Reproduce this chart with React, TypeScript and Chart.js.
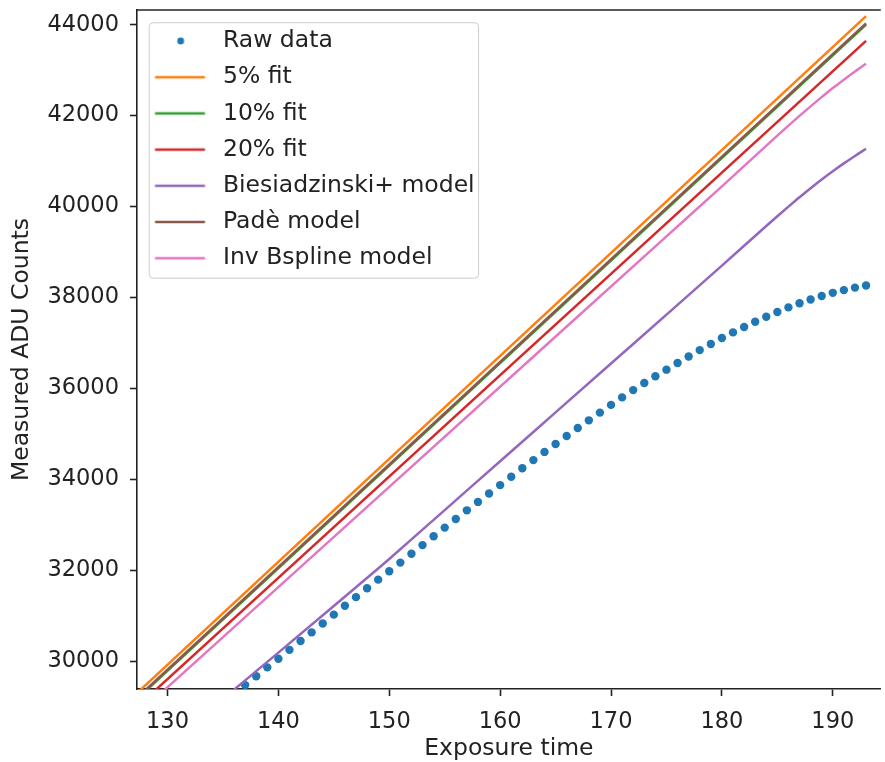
import React, { useEffect, useRef } from "react";
import { Chart, registerables } from "chart.js";

Chart.register(...registerables);

const FONT = "'DejaVu Sans', sans-serif";

const seriesLabels = [
  "Raw data",
  "5% fit",
  "10% fit",
  "20% fit",
  "Biesiadzinski+ model",
  "Padè model",
  "Inv Bspline model",
];
const seriesColors = ["#1f77b4", "#ff7f0e", "#2ca02c", "#d62728", "#9467bd", "#8c564b", "#e377c2"];

const rawTimes = [
  137, 138, 139, 140, 141, 142, 143, 144, 145, 146, 147, 148, 149, 150, 151, 152, 153, 154, 155,
  156, 157, 158, 159, 160, 161, 162, 163, 164, 165, 166, 167, 168, 169, 170, 171, 172, 173, 174,
  175, 176, 177, 178, 179, 180, 181, 182, 183, 184, 185, 186, 187, 188, 189, 190, 191, 192, 193,
];
const rawCounts = [
  29470, 29665, 29860, 30050, 30245, 30440, 30630, 30825, 31020, 31215, 31405, 31600, 31790, 31975,
  32165, 32360, 32550, 32745, 32935, 33125, 33315, 33500, 33685, 33870, 34055, 34240, 34420, 34600,
  34775, 34950, 35125, 35295, 35465, 35635, 35800, 35960, 36115, 36265, 36410, 36555, 36700, 36840,
  36975, 37105, 37230, 37350, 37465, 37575, 37680, 37780, 37870, 37955, 38030, 38100, 38160, 38215,
  38260,
];

const fitTimes = [125, 193];
const fit5Counts = [28785, 44188];
const fit10Counts = [28657, 44004];
const fit20Counts = [28487, 43644];
const padeCounts = [28680, 44030];

const biesTimes = [
  134, 136, 140, 145, 149, 150, 155, 160, 165, 170, 176, 180, 184, 185, 186, 187, 188, 189, 190,
  191, 192, 193,
];
const biesCounts = [
  28960, 29370, 30185, 31210, 32035, 32245, 33320, 34395, 35470, 36545, 37835, 38700, 39570, 39785,
  39996, 40203, 40403, 40595, 40776, 40948, 41112, 41270,
];

const bsplineTimes = [125, 150, 175, 180, 185, 186, 187, 188, 189, 190, 191, 192, 193];
const bsplineCounts = [28321, 33830, 39341, 40443, 41560, 41778, 41993, 42203, 42406, 42605, 42790, 42970, 43140];

const xTickValues = [130, 140, 150, 160, 170, 180, 190];
const yTickValues = [30000, 32000, 34000, 36000, 38000, 40000, 42000, 44000];
const xMin = 127.25;
const xMax = 194.33;
const yMin = 29384;
const yMax = 44323;

const zip = (xs: number[], ys: number[]) => xs.map((x, i) => ({ x, y: ys[i] }));

function makeHandle(color: string, kind: "line" | "dot") {
  const c = document.createElement("canvas");
  c.width = 62;
  c.height = 12;
  const g = c.getContext("2d")!;
  if (kind === "line") {
    g.strokeStyle = color;
    g.lineWidth = 2.5;
    g.beginPath();
    g.moveTo(5.5, 6);
    g.lineTo(55.5, 6);
    g.stroke();
  } else {
    g.fillStyle = color;
    g.beginPath();
    g.arc(31.2, 6, 3.4, 0, Math.PI * 2);
    g.fill();
  }
  return c;
}

const framePlugin = {
  id: "mplFrame",
  beforeDraw(chart: any) {
    const lg = chart.legend;
    const boxes = lg && lg.legendHitBoxes;
    if (!boxes || !boxes.length) return;
    const ctx = chart.ctx;
    const first = boxes[0];
    const last = boxes[boxes.length - 1];
    let maxRight = 0;
    boxes.forEach((b: any) => (maxRight = Math.max(maxRight, b.left + b.width)));
    const left = first.left - 0.5;
    const top = first.top - 6.5;
    const right = maxRight + 4;
    const bottom = last.top + last.height + 8.25;
    ctx.save();
    ctx.beginPath();
    ctx.roundRect(left, top, right - left, bottom - top, 4);
    ctx.fillStyle = "rgba(255,255,255,0.8)";
    ctx.fill();
    ctx.strokeStyle = "#cccccc";
    ctx.lineWidth = 1;
    ctx.stroke();
    ctx.restore();
  },
  afterDraw(chart: any) {
    const { ctx, chartArea } = chart;
    ctx.save();
    ctx.strokeStyle = "#222";
    ctx.lineWidth = 1.6;
    ctx.beginPath();
    ctx.moveTo(chartArea.left - 0.8, chartArea.top);
    ctx.lineTo(chartArea.right, chartArea.top);
    ctx.stroke();
    ctx.restore();
  },
};

export default function App() {
  const ref = useRef<HTMLCanvasElement | null>(null);

  useEffect(() => {
    document.body.style.margin = "0";
    document.body.style.overflow = "hidden";
    const canvas = ref.current!;
    const handles = seriesColors.map((c, i) => makeHandle(c, i === 0 ? "dot" : "line"));

    const lineDs = (i: number, xs: number[], ys: number[], order: number, smooth = false) => ({
      label: seriesLabels[i],
      data: zip(xs, ys),
      showLine: true,
      borderColor: seriesColors[i],
      backgroundColor: seriesColors[i],
      borderWidth: 2.5,
      pointRadius: 0,
      pointHoverRadius: 0,
      fill: false,
      order,
      cubicInterpolationMode: smooth ? "monotone" : "default",
    });

    const tickFont = { family: FONT, size: 22.5 };
    const labelFont = { family: FONT, size: 23.5 };

    const chart = new Chart(canvas, {
      type: "scatter",
      data: {
        datasets: [
          {
            label: seriesLabels[0],
            data: zip(rawTimes, rawCounts),
            showLine: false,
            pointRadius: 4.2,
            pointHoverRadius: 4.2,
            pointBackgroundColor: seriesColors[0],
            pointBorderWidth: 0,
            borderColor: seriesColors[0],
            backgroundColor: seriesColors[0],
            order: 7,
          },
          lineDs(1, fitTimes, fit5Counts, 6),
          lineDs(2, fitTimes, fit10Counts, 5),
          lineDs(3, fitTimes, fit20Counts, 4),
          lineDs(4, biesTimes, biesCounts, 3, true),
          lineDs(5, fitTimes, padeCounts, 2),
          lineDs(6, bsplineTimes, bsplineCounts, 1, true),
        ] as any,
      },
      options: {
        animation: false,
        responsive: false,
        devicePixelRatio: 1,
        events: [],
        layout: { padding: { top: 10, left: 0, right: 0, bottom: 0 } },
        scales: {
          x: {
            type: "linear",
            min: xMin,
            max: xMax,
            afterBuildTicks: (s: any) => {
              s.ticks = xTickValues.map((value) => ({ value }));
            },
            ticks: {
              padding: 13,
              color: "#222",
              font: tickFont,
              maxRotation: 0,
              autoSkip: false,
              callback: (v: any) => String(v),
            },
            grid: { drawOnChartArea: false, drawTicks: true, tickLength: 7, tickWidth: 1.6, tickColor: "#222" },
            border: { display: true, color: "#222", width: 1.6 },
            title: {
              display: true,
              text: "Exposure time",
              color: "#222",
              font: { family: FONT, size: 23.5, lineHeight: 1.1 },
              padding: { top: 0, bottom: 0 },
            },
            afterFit: (s: any) => {
              s.height = 73;
              s.paddingLeft = 0;
              s.paddingRight = 0;
            },
          },
          y: {
            type: "linear",
            min: yMin,
            max: yMax,
            afterBuildTicks: (s: any) => {
              s.ticks = yTickValues.map((value) => ({ value }));
            },
            ticks: {
              padding: 11,
              color: "#222",
              font: tickFont,
              autoSkip: false,
              callback: (v: any) => String(v),
            },
            grid: { drawOnChartArea: false, drawTicks: true, tickLength: 7, tickWidth: 1.6, tickColor: "#222" },
            border: { display: true, color: "#222", width: 1.6 },
            title: {
              display: true,
              text: "Measured ADU Counts",
              color: "#222",
              font: labelFont,
              padding: { top: 8, bottom: 0 },
            },
            afterFit: (s: any) => {
              s.width = 137;
              s.paddingTop = 0;
              s.paddingBottom = 0;
            },
          },
        },
        plugins: {
          tooltip: { enabled: false },
          legend: {
            display: true,
            position: "chartArea",
            align: "start",
            title: { display: true, text: " ", padding: 0, font: { size: 16.55, lineHeight: 1 } },
            labels: {
              usePointStyle: true,
              pointStyleWidth: 61.5,
              padding: 12.7,
              color: "#222",
              font: labelFont,
              generateLabels: () =>
                seriesLabels.map((text, i) => ({
                  text,
                  fillStyle: seriesColors[i],
                  strokeStyle: seriesColors[i],
                  lineWidth: 0,
                  hidden: false,
                  pointStyle: handles[i],
                  rotation: 0,
                  datasetIndex: i,
                  fontColor: "#222",
                })),
            },
          },
        },
      } as any,
      plugins: [framePlugin],
    });

    return () => chart.destroy();
  }, []);

  return (
    <div style={{ width: 885, height: 762, background: "#fff" }}>
      <canvas ref={ref} width={885} height={762} style={{ display: "block", width: 885, height: 762 }} />
    </div>
  );
}
